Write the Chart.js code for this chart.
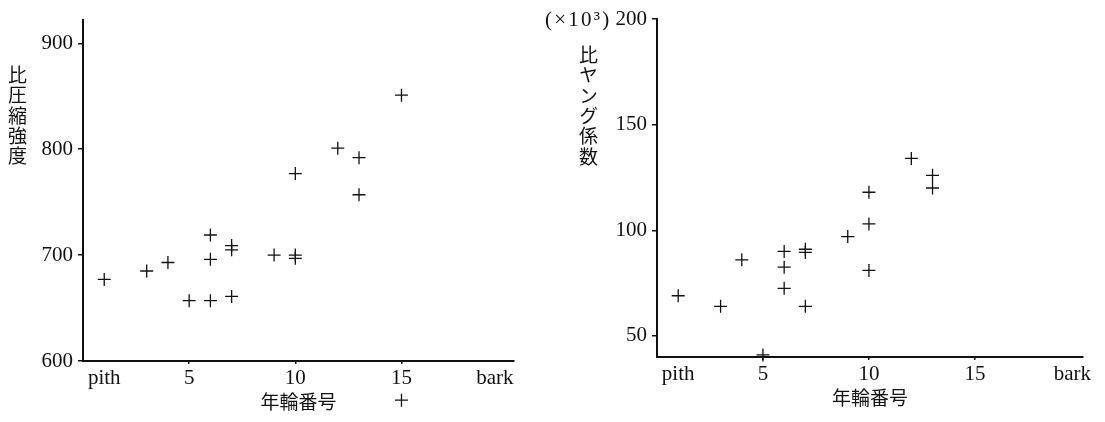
<!DOCTYPE html>
<html lang="ja">
<head>
<meta charset="utf-8">
<title>年輪番号と比圧縮強度・比ヤング係数</title>
<script src="https://cdn.jsdelivr.net/npm/chart.js@4.4.1/dist/chart.umd.min.js"></script>
<style>
  html, body { margin: 0; padding: 0; background: #fff; }
  #wrap { position: relative; width: 1105px; height: 422px; overflow: hidden; }
  canvas { position: absolute; top: 0; }
  #cvA { left: 0; }
  #cvB { left: 552px; }
  .vtitle {
    position: absolute;
    writing-mode: vertical-rl;
    text-orientation: upright;
    font-family: "Noto Sans CJK JP", sans-serif;
    font-size: 19px;
    line-height: 1;
    letter-spacing: 1.4px;
    color: #111;
  }
  #titleA { left: 8px; top: 65px; }
  #titleB { left: 579px; top: 45px; }
  #unitB {
    position: absolute; left: 545px; top: 7px;
    font-family: "Liberation Serif", serif; font-size: 21px; line-height: 24px;
    letter-spacing: 2.2px; color: #111; white-space: nowrap;
  }
</style>
</head>
<body>
<div id="wrap">
  <canvas id="cvA" width="552" height="422"></canvas>
  <canvas id="cvB" width="553" height="422"></canvas>
  <div id="titleA" class="vtitle">比圧縮強度</div>
  <div id="titleB" class="vtitle">比ヤング係数</div>
  <div id="unitB">(×10³)</div>
</div>
<script>
// Ring-number axis labels (pith .. bark)
const RING_LABELS = ['pith', '5', '10', '15', 'bark'];
const RING_TICKS_A = [1, 5, 10, 15, 19.4];
const RING_TICKS_B = [1, 5, 10, 15, 19.6];

// Specific compressive strength vs. ring number
const ringsA = [1, 3, 4, 5, 6, 6, 6, 7, 7, 7, 9, 10, 10, 10, 12, 13, 13, 15, 15];
const strengthA = [677, 685, 693, 657, 657, 719, 696, 709, 705, 661, 700, 700, 697, 777, 801, 792, 757, 851, 563];
const STRENGTH_TICKS = [600, 700, 800, 900];

// Specific Young's modulus (×10³) vs. ring number
const ringsB = [1, 3, 4, 5, 6, 6, 6, 7, 7, 7, 9, 10, 10, 10, 12, 13, 13];
const modulusB = [69, 64, 86, 41, 90, 82.5, 72.5, 91, 89.5, 64, 97, 118, 103, 81, 134, 126, 120];
const MODULUS_TICKS = [50, 100, 150, 200];

const INK = '#111';
const serif = { family: '"Liberation Serif", "DejaVu Serif", serif', size: 21 };

// Crosses that fall outside the plot area are still drawn at their scale position
const outsideMarks = {
  id: 'outsideMarks',
  afterDatasetsDraw(chart) {
    const { ctx, chartArea: a } = chart;
    chart.data.datasets.forEach((ds, i) => {
      chart.getDatasetMeta(i).data.forEach(pt => {
        if (pt.x >= a.left && pt.x <= a.right && pt.y >= a.top && pt.y <= a.bottom) return;
        const r = pt.options.radius;
        ctx.save();
        ctx.strokeStyle = pt.options.borderColor;
        ctx.lineWidth = pt.options.borderWidth;
        ctx.beginPath();
        ctx.moveTo(pt.x - r, pt.y); ctx.lineTo(pt.x + r, pt.y);
        ctx.moveTo(pt.x, pt.y - r); ctx.lineTo(pt.x, pt.y + r);
        ctx.stroke();
        ctx.restore();
      });
    });
  }
};

function makePanel(canvas, xs, ys, xTicks, xMax, yTicks, yMin, yMax, cfg) {
  const ends = [xTicks[0], xTicks[xTicks.length - 1]];
  return new Chart(canvas, {
    type: 'scatter',
    data: {
      datasets: [{
        data: xs.map((x, i) => ({ x, y: ys[i] })),
        pointStyle: 'cross',
        radius: 6.5,
        borderColor: INK,
        backgroundColor: INK,
        borderWidth: 1.3,
        clip: false
      }]
    },
    options: {
      responsive: false,
      animation: false,
      devicePixelRatio: 1,
      events: [],
      layout: { padding: cfg.padding },
      plugins: { legend: { display: false }, tooltip: { enabled: false } },
      scales: {
        x: {
          type: 'linear', min: 0, max: xMax,
          afterBuildTicks: s => { s.ticks = xTicks.map(v => ({ value: v })); },
          afterFit: s => { s.height = cfg.xHeight; },
          ticks: {
            callback: (v, i) => RING_LABELS[i],
            font: serif, color: INK, padding: 2,
            maxRotation: 0, autoSkip: false
          },
          grid: {
            display: true, drawOnChartArea: false, drawTicks: true, tickLength: 3,
            lineWidth: 1.5,
            color: c => (c.tick && ends.includes(c.tick.value)) ? 'rgba(0,0,0,0)' : INK
          },
          border: { display: true, color: INK, width: 2 },
          title: {
            display: true, text: '年輪番号', color: INK,
            font: { family: '"Noto Sans CJK JP", sans-serif', size: 19 },
            padding: { top: 0, bottom: cfg.titlePad }
          }
        },
        y: {
          type: 'linear', min: yMin, max: yMax,
          afterBuildTicks: s => { s.ticks = yTicks.map(v => ({ value: v })); },
          afterFit: s => { s.width = cfg.yWidth; },
          ticks: { font: serif, color: INK, padding: 5 },
          grid: {
            display: true, drawOnChartArea: false, drawTicks: true,
            tickLength: 5, lineWidth: 1.5, color: INK
          },
          border: { display: true, color: INK, width: 2 }
        }
      }
    },
    plugins: [outsideMarks]
  });
}

makePanel(document.getElementById('cvA'), ringsA, strengthA, RING_TICKS_A, 20.3,
  STRENGTH_TICKS, 600, 922,
  { padding: { top: 20, right: 38, left: 0, bottom: 0 }, xHeight: 61, yWidth: 83, titlePad: 8.6 });

makePanel(document.getElementById('cvB'), ringsB, modulusB, RING_TICKS_B, 20.1,
  MODULUS_TICKS, 40, 200,
  { padding: { top: 19, right: 22, left: 0, bottom: 0 }, xHeight: 65, yWidth: 105, titlePad: 12.6 });
</script>
</body>
</html>
